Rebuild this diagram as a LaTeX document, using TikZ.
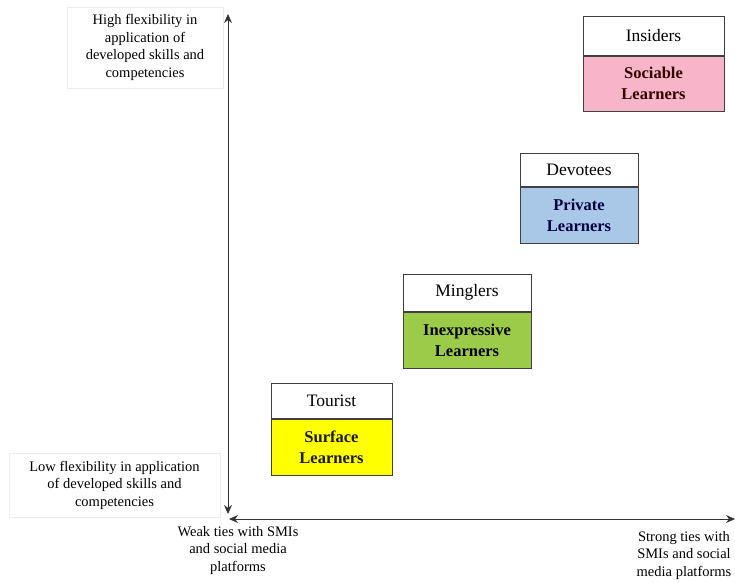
\documentclass[tikz,border=0pt]{standalone}
\usepackage{fontspec}
\setmainfont{Liberation Serif}
\usepackage{xcolor}
\usetikzlibrary{arrows.meta, positioning}

\definecolor{sociable}{HTML}{F7B5CA}
\definecolor{private}{HTML}{A9C8E8}
\definecolor{inexpressive}{HTML}{9CCB4A}
\definecolor{surface}{HTML}{FFFF00}

\begin{document}
\begin{tikzpicture}[
    x=1pt, y=-1pt,
    node distance=0pt,
    head/.style={rectangle, draw=black!75, line width=1pt, fill=white, align=center, inner sep=0pt, font=\fontsize{17.5}{20}\selectfont},
    learner/.style={rectangle, draw=black!75, line width=1pt, align=center, inner sep=0pt, font=\fontsize{16.5}{21}\selectfont\bfseries},
    axislabel/.style={rectangle, draw=black!7, fill=white, align=center, inner sep=0pt, font=\fontsize{14.5}{17.5}\selectfont},
    ticklabel/.style={align=center, inner sep=0pt, font=\fontsize{14.5}{17.5}\selectfont},
    axis/.style={line width=1pt, draw=black!80, {Stealth[length=9pt,width=8pt]}-{Stealth[length=9pt,width=8pt]}},
]
    \useasboundingbox (0,0) rectangle (735,582);

    % Axes
    \coordinate (ytop) at (228,14);
    \coordinate (ybot) at (228,514);
    \coordinate (xleft) at (229,519);
    \coordinate (xright) at (735,519);
    \draw[axis] (ybot) -- (ytop);
    \draw[axis] (xleft) -- (xright);

    % Axis labels
    \node[axislabel, minimum width=156, minimum height=81] (high) at (145,47.5) {High flexibility in\\application of\\developed skills and\\competencies};
    \node[axislabel, minimum width=211, minimum height=64] (low) at (114.5,485) {Low flexibility in application\\of developed skills and\\competencies};
    \node[ticklabel] (weak) at (238,550) {Weak ties with SMIs\\and social media\\platforms};
    \node[ticklabel] (strong) at (684,555) {Strong ties with\\SMIs and social\\media platforms};

    % Learner types
    \node[head, minimum width=121, minimum height=35] (tourist) at (331.5,400.5) {Tourist};
    \node[learner, fill=surface, text=black!90, minimum width=121, minimum height=56, below=of tourist] (surfacel) {Surface\\Learners};

    \node[head, minimum width=128, minimum height=37] (minglers) at (467,292.5) {Minglers};
    \node[learner, fill=inexpressive, text=black, minimum width=128, minimum height=56, below=of minglers] (inexpressivel) {Inexpressive\\Learners};

    \node[head, minimum width=118, minimum height=33] (devotees) at (579,169.5) {Devotees};
    \node[learner, fill=private, text=blue!25!black, minimum width=118, minimum height=56, below=of devotees] (privatel) {Private\\Learners};

    \node[head, minimum width=141, minimum height=39] (insiders) at (653.5,35.5) {Insiders};
    \node[learner, fill=sociable, text=red!20!black, minimum width=141, minimum height=55, below=of insiders] (sociablel) {Sociable\\Learners};
\end{tikzpicture}
\end{document}
